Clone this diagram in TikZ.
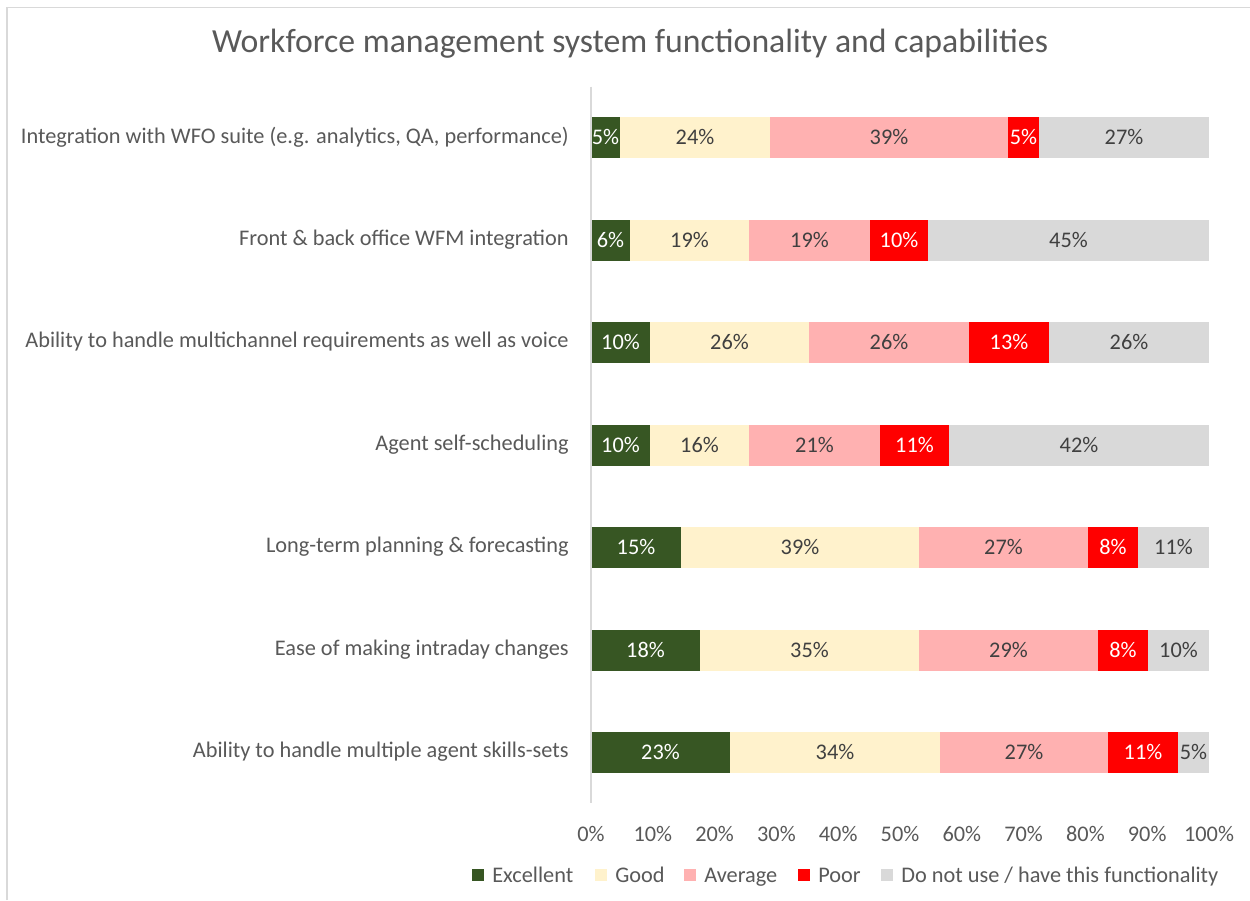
\documentclass[tikz,border=0pt]{standalone}
\usepackage{fontspec}
\setmainfont{Carlito}
\usepackage{tikz}
\usetikzlibrary{positioning}

\definecolor{excellent}{HTML}{375623}
\definecolor{good}{HTML}{FFF2CC}
\definecolor{average}{HTML}{FFB1B1}
\definecolor{poor}{HTML}{FF0000}
\definecolor{nouse}{HTML}{D9D9D9}
\definecolor{labelgray}{HTML}{595959}
\definecolor{valgray}{HTML}{404040}
\definecolor{framegray}{HTML}{D9D9D9}

\newcommand{\chartfont}{\fontsize{12.7pt}{15pt}\selectfont}
\newcommand{\titlefont}{\fontsize{19.2pt}{22pt}\selectfont}

\tikzset{
  cat/.style={font=\chartfont,text=labelgray,anchor=east,inner sep=0pt},
  val/.style={font=\chartfont,text=valgray,anchor=center,inner sep=0pt},
  valw/.style={val,text=white},
  tick/.style={font=\chartfont,text=labelgray,anchor=center,inner sep=0pt},
  keybox/.style={rectangle,minimum width=0.24cm,minimum height=0.24cm,inner sep=0pt,draw=none},
  keytext/.style={font=\chartfont,text=labelgray,anchor=base west,inner sep=0pt}
}

\begin{document}
\begin{tikzpicture}[x=0.02cm,y=-0.02cm]
\useasboundingbox (0,0) rectangle (1250,900);
\fill[white] (0,0) rectangle (1250,900);
\draw[framegray,line width=0.8pt] (7,900) -- (7,7.5) -- (1250,7.5);

\node[font=\titlefont,text=labelgray,anchor=center] (title) at (630,44) {Workforce management system functionality and capabilities};

% bars
\fill[excellent] (591,116.5) rectangle (620,157.5);
\fill[good] (620,116.5) rectangle (770,157.5);
\fill[average] (770,116.5) rectangle (1008,157.5);
\fill[poor] (1008,116.5) rectangle (1039,157.5);
\fill[nouse] (1039,116.5) rectangle (1209,157.5);

\fill[excellent] (591,219.5) rectangle (630,260.5);
\fill[good] (630,219.5) rectangle (749,260.5);
\fill[average] (749,219.5) rectangle (870,260.5);
\fill[poor] (870,219.5) rectangle (928,260.5);
\fill[nouse] (928,219.5) rectangle (1209,260.5);

\fill[excellent] (591,321.5) rectangle (650,362.5);
\fill[good] (650,321.5) rectangle (809,362.5);
\fill[average] (809,321.5) rectangle (969,362.5);
\fill[poor] (969,321.5) rectangle (1049,362.5);
\fill[nouse] (1049,321.5) rectangle (1209,362.5);

\fill[excellent] (591,424.5) rectangle (650,465.5);
\fill[good] (650,424.5) rectangle (749,465.5);
\fill[average] (749,424.5) rectangle (880,465.5);
\fill[poor] (880,424.5) rectangle (949,465.5);
\fill[nouse] (949,424.5) rectangle (1209,465.5);

\fill[excellent] (591,526.5) rectangle (681,567.5);
\fill[good] (681,526.5) rectangle (919,567.5);
\fill[average] (919,526.5) rectangle (1088,567.5);
\fill[poor] (1088,526.5) rectangle (1138,567.5);
\fill[nouse] (1138,526.5) rectangle (1209,567.5);

\fill[excellent] (591,629.5) rectangle (700,670.5);
\fill[good] (700,629.5) rectangle (919,670.5);
\fill[average] (919,629.5) rectangle (1098,670.5);
\fill[poor] (1098,629.5) rectangle (1148,670.5);
\fill[nouse] (1148,629.5) rectangle (1209,670.5);

\fill[excellent] (591,731.5) rectangle (730,772.5);
\fill[good] (730,731.5) rectangle (940,772.5);
\fill[average] (940,731.5) rectangle (1108,772.5);
\fill[poor] (1108,731.5) rectangle (1178,772.5);
\fill[nouse] (1178,731.5) rectangle (1209,772.5);

% data labels
\node[valw] (v1a) at (605.5,137) {5\%};
\node[val]  (v1b) at (695,137) {24\%};
\node[val]  (v1c) at (889,137) {39\%};
\node[valw] (v1d) at (1023.5,137) {5\%};
\node[val]  (v1e) at (1124,137) {27\%};

\node[valw] (v2a) at (610.5,240) {6\%};
\node[val]  (v2b) at (689.5,240) {19\%};
\node[val]  (v2c) at (809.5,240) {19\%};
\node[valw] (v2d) at (899,240) {10\%};
\node[val]  (v2e) at (1068.5,240) {45\%};

\node[valw] (v3a) at (620.5,342) {10\%};
\node[val]  (v3b) at (729.5,342) {26\%};
\node[val]  (v3c) at (889,342) {26\%};
\node[valw] (v3d) at (1009,342) {13\%};
\node[val]  (v3e) at (1129,342) {26\%};

\node[valw] (v4a) at (620.5,445) {10\%};
\node[val]  (v4b) at (699.5,445) {16\%};
\node[val]  (v4c) at (814.5,445) {21\%};
\node[valw] (v4d) at (914.5,445) {11\%};
\node[val]  (v4e) at (1079,445) {42\%};

\node[valw] (v5a) at (636,547) {15\%};
\node[val]  (v5b) at (800,547) {39\%};
\node[val]  (v5c) at (1003.5,547) {27\%};
\node[valw] (v5d) at (1113,547) {8\%};
\node[val]  (v5e) at (1173.5,547) {11\%};

\node[valw] (v6a) at (645.5,650) {18\%};
\node[val]  (v6b) at (809.5,650) {35\%};
\node[val]  (v6c) at (1008.5,650) {29\%};
\node[valw] (v6d) at (1123,650) {8\%};
\node[val]  (v6e) at (1178.5,650) {10\%};

\node[valw] (v7a) at (660.5,752) {23\%};
\node[val]  (v7b) at (835,752) {34\%};
\node[val]  (v7c) at (1024,752) {27\%};
\node[valw] (v7d) at (1143,752) {11\%};
\node[val]  (v7e) at (1193.5,752) {5\%};

% category axis
\draw[framegray,line width=0.75pt] (591,86.7) -- (591,802.7);
\node[cat] (c1) at (569,137) {Integration with WFO suite (e.g. analytics, QA, performance)};
\node[cat] (c2) at (569,240) {Front \& back office WFM integration};
\node[cat] (c3) at (569,342) {Ability to handle multichannel requirements as well as voice};
\node[cat] (c4) at (569,445) {Agent self-scheduling};
\node[cat] (c5) at (569,547) {Long-term planning \& forecasting};
\node[cat] (c6) at (569,650) {Ease of making intraday changes};
\node[cat] (c7) at (569,752) {Ability to handle multiple agent skills-sets};

% value axis
\node[tick] (t0) at (591,834) {0\%};
\node[tick] (t10) at (652.8,834) {10\%};
\node[tick] (t20) at (714.6,834) {20\%};
\node[tick] (t30) at (776.4,834) {30\%};
\node[tick] (t40) at (838.2,834) {40\%};
\node[tick] (t50) at (900,834) {50\%};
\node[tick] (t60) at (961.8,834) {60\%};
\node[tick] (t70) at (1023.6,834) {70\%};
\node[tick] (t80) at (1085.4,834) {80\%};
\node[tick] (t90) at (1147.2,834) {90\%};
\node[tick] (t100) at (1209,834) {100\%};

% legend
\node[keybox,fill=excellent] (k1) at (478,875) {};
\node[keytext] (l1) at (492,882) {Excellent};
\node[keybox,fill=good] (k2) at (601,875) {};
\node[keytext] (l2) at (615,882) {Good};
\node[keybox,fill=average] (k3) at (690,875) {};
\node[keytext] (l3) at (704,882) {Average};
\node[keybox,fill=poor] (k4) at (804,875) {};
\node[keytext] (l4) at (818,882) {Poor};
\node[keybox,fill=nouse] (k5) at (887,875) {};
\node[keytext] (l5) at (901,882) {Do not use / have this functionality};

\end{tikzpicture}
\end{document}
